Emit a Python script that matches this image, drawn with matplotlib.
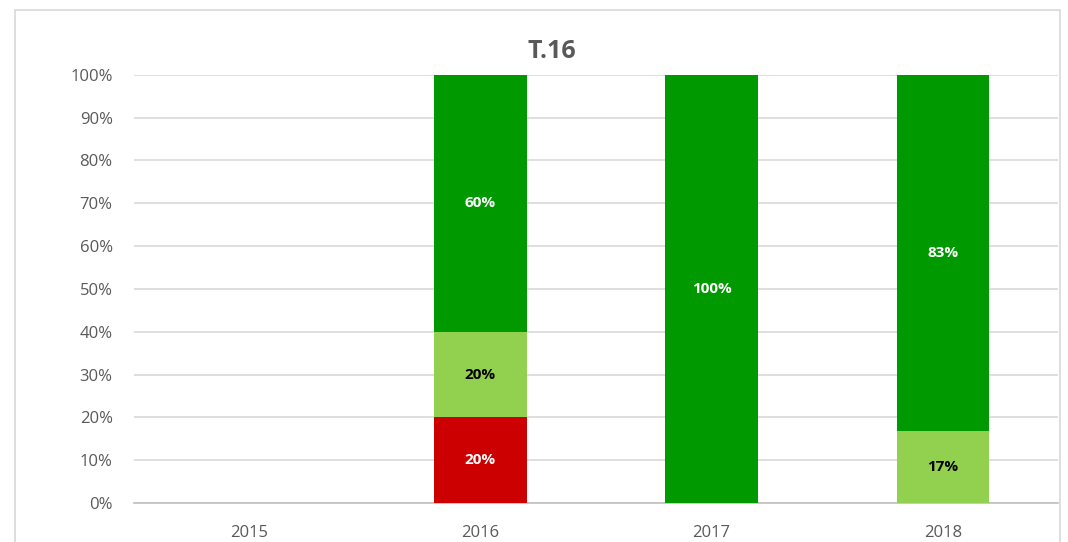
import numpy as np
import matplotlib.pyplot as plt
from matplotlib.patches import Rectangle

years = ["2015", "2016", "2017", "2018"]
red = [0, 20, 0, 0]
light_green = [0, 20, 0, 16.7]
dark_green = [0, 60, 100, 83.3]

plt.rcParams['font.family'] = ['Open Sans', 'DejaVu Sans']

fig = plt.figure(figsize=(10.68, 5.42), dpi=100)
ax = fig.add_axes([0.125, 0.072, 0.866, 0.79])

# outer chart border
fig.patches.append(Rectangle((15 / 1068, -0.05), (1060 - 15) / 1068, 1.05 - 10 / 542,
                             transform=fig.transFigure, fill=False,
                             edgecolor='#d9d9d9', linewidth=1.2))

x = np.arange(len(years))
w = 0.4
red_arr = np.array(red)
lg_arr = np.array(light_green)
dg_arr = np.array(dark_green)

ax.bar(x, red_arr, w, color='#cc0000', zorder=3)
ax.bar(x, lg_arr, w, bottom=red_arr, color='#92d050', zorder=3)
ax.bar(x, dg_arr, w, bottom=red_arr + lg_arr, color='#009900', zorder=3)

for i in range(len(years)):
    if red[i] > 0:
        ax.text(x[i], red[i] / 2, f"{red[i]:.0f}%", ha='center', va='center',
                color='white', fontsize=11, fontweight='bold', zorder=4)
    if light_green[i] > 0:
        ax.text(x[i], red[i] + light_green[i] / 2, f"{light_green[i]:.0f}%", ha='center',
                va='center', color='black', fontsize=11, fontweight='bold', zorder=4)
    if dark_green[i] > 0:
        ax.text(x[i], red[i] + light_green[i] + dark_green[i] / 2, f"{dark_green[i]:.0f}%",
                ha='center', va='center', color='white', fontsize=11,
                fontweight='bold', zorder=4)

ax.set_xlim(-0.5, len(years) - 0.5)
ax.set_ylim(0, 100)
ax.set_yticks(np.arange(0, 101, 10))
ax.set_yticklabels([f"{v}%" for v in range(0, 101, 10)])
ax.set_xticks(x)
ax.set_xticklabels(years)
ax.tick_params(axis='both', length=0, labelsize=12, labelcolor='#595959')
ax.tick_params(axis='y', pad=15)
ax.tick_params(axis='x', pad=16)
ax.yaxis.grid(True, color='#d9d9d9', linewidth=1.2, zorder=0)
for s in ['top', 'right', 'left']:
    ax.spines[s].set_visible(False)
ax.spines['bottom'].set_color('#bfbfbf')
ax.spines['bottom'].set_linewidth(1.2)

fig.text(0.517, 0.905, "T.16", ha='center', va='center', fontsize=18,
         fontweight='bold', color='#595959')

fig.savefig("out.png", dpi=100)
